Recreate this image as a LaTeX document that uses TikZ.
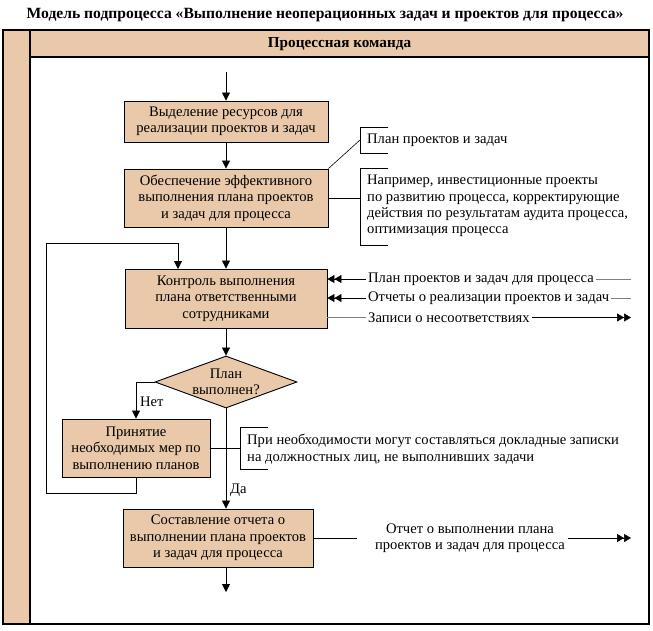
\documentclass[tikz,border=0pt]{standalone}
\usepackage{fontspec}
\setmainfont{Liberation Serif}
\usetikzlibrary{arrows.meta,shapes.geometric,calc}
\definecolor{tanfill}{RGB}{233,201,169}
\begin{document}
\begin{tikzpicture}[x=1pt,y=-1pt,
  txt/.style={font=\fontsize{14.6}{16.4}\selectfont},
  box/.style={txt,draw,line width=0.9pt,fill=tanfill,align=center,inner sep=0pt},
  note/.style={txt,align=left,inner sep=2pt,anchor=west},
  arr/.style={line width=0.8pt,-{Triangle[length=8pt,width=8pt]}},
  dbl/.style={line width=0.6pt,-{Triangle[length=7pt,width=8pt,sep=0pt]Triangle[length=7pt,width=8pt]}},
  dblin/.style={line width=0.6pt,{Triangle[length=7pt,width=8pt,sep=0pt]Triangle[length=7pt,width=8pt]}-},
  thin/.style={line width=0.6pt},
  frame/.style={line width=1.4pt}
]
\useasboundingbox (0,0) rectangle (653,630);
% frame
\fill[tanfill] (3,30) rectangle (30,624);
\fill[tanfill] (30,30) rectangle (649,57);
\draw[frame] (3,30) rectangle (649,624);
\draw[frame] (30,30) -- (30,624);
\draw[frame] (30,57) -- (649,57);
\node[font=\bfseries\fontsize{15.6}{18}\selectfont] (title) at (325,15) {Модель подпроцесса «Выполнение неоперационных задач и проектов для процесса»};
\node[font=\bfseries\fontsize{15.2}{17}\selectfont] (head) at (339.5,44) {Процессная команда};

% boxes
\coordinate (s) at (226,72);
\node[box,minimum width=204,minimum height=41] (b1) at (226,121.5) {Выделение ресурсов для\\реализации проектов и задач};
\node[box,minimum width=204,minimum height=58] (b2) at (226,198) {Обеспечение эффективного\\выполнения плана проектов\\и задач для процесса};
\node[box,minimum width=202,minimum height=59] (b3) at (226,298.5) {Контроль выполнения\\плана ответственными\\сотрудниками};
\node[draw,line width=0.9pt,fill=tanfill,diamond,aspect=2.73,inner sep=0pt,minimum width=142,minimum height=52] (d) at (226,382) {};
\node[txt,align=center,inner sep=0pt] (dt) at (d.center) {План\\выполнен?};
\node[box,minimum width=148,minimum height=58] (b4) at (136,448) {Принятие\\необходимых мер по\\выполнению планов};
\node[box,minimum width=190,minimum height=58] (b5) at (218,538) {Составление отчета о\\выполнении плана проектов\\и задач для процесса};
\coordinate (e) at (226,592);

\draw[arr] (s) -- (b1);
\draw[arr] (b1) -- (b2);
\draw[arr] (b2) -- (b3);
\draw[arr] (b3) -- (d);
\draw[arr] (d.south) -- (d.south |- b5.north);
\draw[arr] (b5.south -| d.south) -- (e);
\node[txt,anchor=west,inner sep=0pt] (yes) at (230,490) {Да};
\draw[arr] (d.west) -| (b4.north);
\node[txt,anchor=west,inner sep=0pt] (no) at (140,402) {Нет};
% loop
\coordinate (lpB) at (46,493);
\coordinate (lpT) at (46,243);
\coordinate (lpE) at (178,269);
\draw[arr] (b4.south) |- (lpB) -- (lpT) -| (lpE);

% annotations top right
\node[note] (n1) at (365,140) {План проектов и задач};
\coordinate (k1) at (360,140);
\draw[thin] (388,127) -- (360,127) -- (360,153) -- (388,153);
\draw[thin] (b2.north east) -- (k1);
\node[note] (n2) at (365,206) {Например, инвестиционные проекты\\по развитию процесса, корректирующие\\действия по результатам аудита процесса,\\оптимизация процесса};
\coordinate (k2) at (360,198);
\draw[thin] (388,168) -- (360,168) -- (360,245) -- (388,245);
\draw[thin] (b2.east) -- (k2);

% inputs / outputs of b3
\coordinate (rx) at (631,0);
\node[note] (t1) at (366,279) {План проектов и задач для процесса};
\node[note] (t2) at (366,298) {Отчеты о реализации проектов и задач};
\node[note] (t3) at (366,317.5) {Записи о несоответствиях};
\draw[dblin] (b3.east |- t1.west) -- (t1.west);
\draw[thin,gray] (t1.east) -- (t1.east -| rx);
\draw[dblin] (b3.east |- t2.west) -- (t2.west);
\draw[thin,gray] (t2.east) -- (t2.east -| rx);
\draw[thin,gray] (b3.east |- t3.west) -- (t3.west);
\draw[dbl] (t3.east) -- (t3.east -| rx);

% note for b4
\node[note] (n4) at (245,449) {При необходимости могут составляться докладные записки\\на должностных лиц, не выполнивших задачи};
\coordinate (k4) at (240,448);
\draw[thin] (268,427) -- (240,427) -- (240,469) -- (268,469);
\draw[thin] (b4.east) -- (k4);

% output of b5
\node[txt,align=center,inner sep=3pt] (t5) at (470,538) {Отчет о выполнении плана\\проектов и задач для процесса};
\coordinate (k5) at (357,538);
\draw[thin] (b5.east) -- (k5);
\draw[dbl] (t5.east) -- (t5.east -| rx);
\end{tikzpicture}
\end{document}
